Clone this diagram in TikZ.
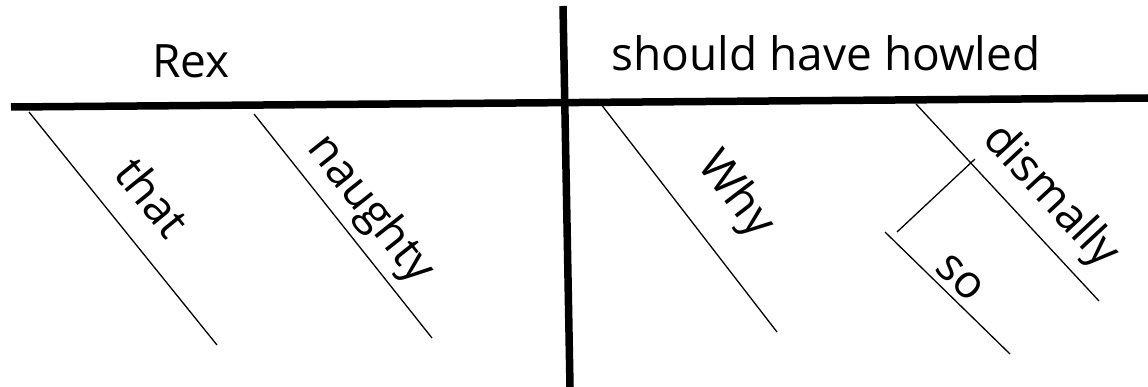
\documentclass[tikz,border=0pt]{standalone}
\usepackage{fontspec}
\setmainfont{Open Sans}
\usetikzlibrary{calc}
\tikzset{
  mainline/.style={
    line width = 7.5pt
  },
  modline/.style={
    line width = 1.3pt
  },
  word/.style={
    inner sep = 0pt,
    font = \fontsize{46}{50}\selectfont
  },
}

\begin{document}
\begin{tikzpicture}[x=1pt,y=-1pt]
        \useasboundingbox (0,0) rectangle (1148,387);

        % subject / predicate
        \coordinate (baseL) at (11,107);
        \coordinate (baseR) at (1148,98);
        \coordinate (divT) at (563,6);
        \coordinate (divB) at (570,387);
        \draw[mainline] (baseL) -- (baseR);
        \draw[mainline] (divT) -- (divB);

        \node[word] (rex) at (191,61) {Rex};
        \node[word] (verb) at (826,53) {should have howled};

        % modifiers of Rex
        \coordinate (thatT) at (29,112);
        \coordinate (thatB) at (217,345);
        \coordinate (naughtyT) at (254,114);
        \coordinate (naughtyB) at (432,338);
        \draw[modline] (thatT) -- (thatB);
        \draw[modline] (naughtyT) -- (naughtyB);
        \node[word, rotate=-51] (that) at (153,197) {that};
        \node[word, rotate=-51.5] (naughty) at (370,210) {naughty};

        % modifiers of the verb
        \coordinate (whyT) at (597,99);
        \coordinate (whyB) at (777,332);
        \coordinate (dismallyT) at (916,104);
        \coordinate (dismallyB) at (1099,301);
        \draw[modline] (whyT) -- (whyB);
        \draw[modline] (dismallyT) -- (dismallyB);
        \node[word, rotate=-52.4] (why) at (735,195) {Why};
        \node[word, rotate=-47] (dismally) at (1050,197) {dismally};

        % so -> dismally
        \coordinate (soJ) at (975,159);
        \coordinate (soK) at (897,232);
        \coordinate (soT) at (885,232);
        \coordinate (soB) at (1010,354);
        \draw[modline] (soJ) -- (soK);
        \draw[modline] (soT) -- (soB);
        \node[word, rotate=-44.4] (so) at (960,278) {so};
\end{tikzpicture}
\end{document}
